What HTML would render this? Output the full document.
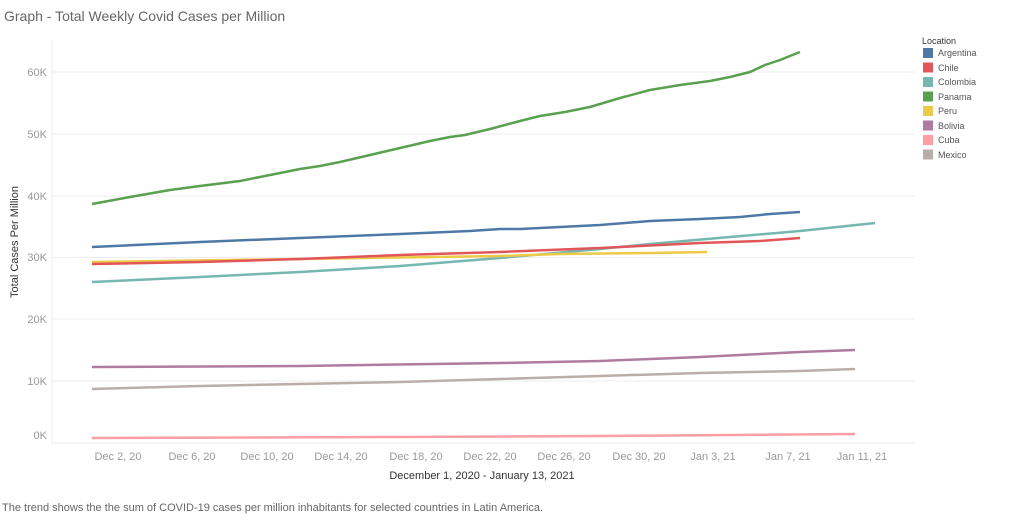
<!DOCTYPE html><html><head><style>body{margin:0;background:#fff;font-family:"Liberation Sans",sans-serif}</style></head><body>
<svg width="1024" height="516" xmlns="http://www.w3.org/2000/svg" font-family="Liberation Sans, sans-serif">
<text x="4" y="21" font-size="14" fill="#666">Graph - Total Weekly Covid Cases per Million</text>
<g stroke="#eee" stroke-width="1">
<line x1="52" x2="915" y1="72" y2="72"/><line x1="52" x2="915" y1="134" y2="134"/><line x1="52" x2="915" y1="196" y2="196"/><line x1="52" x2="915" y1="257.5" y2="257.5"/><line x1="52" x2="915" y1="319" y2="319"/><line x1="52" x2="915" y1="381" y2="381"/><line x1="52" x2="52" y1="40" y2="443"/><line x1="52" x2="915" y1="443" y2="443"/>
</g>
<g font-size="11" fill="#999" text-anchor="end">
<text x="47" y="76">60K</text><text x="47" y="138">50K</text><text x="47" y="200">40K</text><text x="47" y="261">30K</text><text x="47" y="323">20K</text><text x="47" y="385">10K</text><text x="47" y="439">0K</text>
</g>
<text transform="translate(18,242) rotate(-90)" font-size="11" fill="#333" text-anchor="middle">Total Cases Per Million</text>
<g font-size="11" fill="#999" text-anchor="middle">
<text x="118" y="460">Dec 2, 20</text><text x="192" y="460">Dec 6, 20</text><text x="267" y="460">Dec 10, 20</text><text x="341" y="460">Dec 14, 20</text><text x="416" y="460">Dec 18, 20</text><text x="490" y="460">Dec 22, 20</text><text x="564" y="460">Dec 26, 20</text><text x="639" y="460">Dec 30, 20</text><text x="713" y="460">Jan 3, 21</text><text x="788" y="460">Jan 7, 21</text><text x="862" y="460">Jan 11, 21</text>
</g>
<text x="482" y="479" font-size="11" fill="#333" text-anchor="middle">December 1, 2020 - January 13, 2021</text>
<text x="2" y="511" font-size="11" fill="#666">The trend shows the the sum of COVID-19 cases per million inhabitants for selected countries in Latin America.</text>
<g fill="none" stroke-width="2.5" stroke-linejoin="round">
<polyline stroke="#b9aea9" points="92,389 200,386 400,382 500,379 600,376 700,373 800,371 855,369"/>
<polyline stroke="#fc9ea4" points="92,438 400,437 600,436 855,434"/>
<polyline stroke="#b07aa1" points="92,367 300,366 500,363 600,361 700,357 760,354 800,352 855,350"/>
<polyline stroke="#76b7b2" points="92,282 200,277 300,272 400,266 500,258 600,249 650,244 730,237 800,231 875,223"/>
<polyline stroke="#edc948" points="92,262 300,259 500,256 560,254 650,253 707,252"/>
<polyline stroke="#e15759" points="92,264 200,262 300,259 400,255 500,252 600,248 700,243 760,241 800,238"/>
<polyline stroke="#4e79a7" points="92,247 200,242 300,238 400,234 470,231 500,229 520,229 560,227 600,225 650,221 700,219 740,217 770,214 800,212"/>
<polyline stroke="#59a14f" points="92,204 130,197 170,190 200,186 240,181 270,175 300,169 320,166 340,162 370,155 400,148 430,141 450,137 465,135 490,129 520,121 540,116 565,112 590,107 620,98 650,90 680,85 710,81 730,77 750,72 765,65 780,60 800,52"/>
</g>
<text x="922" y="44" font-size="9" fill="#333">Location</text>
<g font-size="9" fill="#555">
<rect x="923" y="48" width="10" height="10" fill="#4e79a7"/><text x="938" y="56">Argentina</text>
<rect x="923" y="62.5" width="10" height="10" fill="#e15759"/><text x="938" y="71">Chile</text>
<rect x="923" y="77" width="10" height="10" fill="#76b7b2"/><text x="938" y="85">Colombia</text>
<rect x="923" y="91.5" width="10" height="10" fill="#59a14f"/><text x="938" y="100">Panama</text>
<rect x="923" y="106" width="10" height="10" fill="#edc948"/><text x="938" y="114">Peru</text>
<rect x="923" y="120.5" width="10" height="10" fill="#b07aa1"/><text x="938" y="129">Bolivia</text>
<rect x="923" y="135" width="10" height="10" fill="#fc9ea4"/><text x="938" y="143">Cuba</text>
<rect x="923" y="149.5" width="10" height="10" fill="#b9aea9"/><text x="938" y="158">Mexico</text>
</g>
</svg></body></html>
